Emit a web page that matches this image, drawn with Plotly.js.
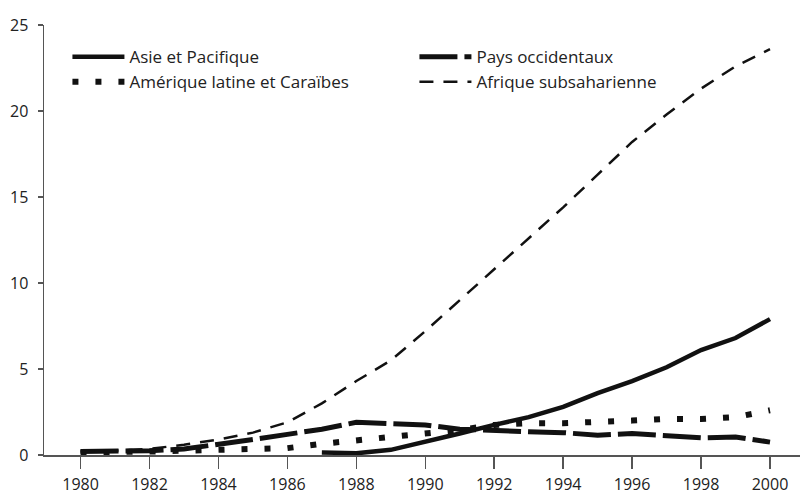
<!DOCTYPE html>
<html>
<head>
<meta charset="utf-8">
<script src="https://cdn.plot.ly/plotly-3.0.1.min.js"></script>
<style>html,body{margin:0;padding:0;background:#fff;}#chart{width:801px;height:497px;}</style>
</head>
<body>
<div id="chart"></div>
<script>
// ---- data ----
const yearsAll = [1980,1981,1982,1983,1984,1985,1986,1987,1988,1989,1990,1991,1992,1993,1994,1995,1996,1997,1998,1999,2000];
const yearsAsie = [1987,1988,1989,1990,1991,1992,1993,1994,1995,1996,1997,1998,1999,2000];
const asie = [0.15,0.1,0.3,0.75,1.25,1.75,2.2,2.8,3.6,4.3,5.1,6.1,6.8,7.9];
const pays = [0.2,0.2,0.25,0.35,0.6,0.9,1.2,1.5,1.9,1.85,1.75,1.5,1.4,1.35,1.3,1.15,1.25,1.1,1.0,1.05,0.75];
const amerique = [0.15,0.15,0.2,0.25,0.3,0.3,0.4,0.65,0.85,1.0,1.25,1.45,1.75,1.85,1.85,1.9,2.0,2.1,2.1,2.2,2.6];
const afrique = [0.2,0.25,0.35,0.6,0.9,1.3,1.9,3.0,4.3,5.5,7.2,9.0,10.8,12.6,14.4,16.3,18.2,19.8,21.3,22.6,23.6];
const seriesNames = ["Asie et Pacifique","Pays occidentaux","Amérique latine et Caraïbes","Afrique subsaharienne"];
const xTicks = [1980,1982,1984,1986,1988,1990,1992,1994,1996,1998,2000];
const yTicks = [0,5,10,15,20,25];

const ink = "#111111";
const traces = [
  {x: yearsAsie, y: asie, name: seriesNames[0], mode: "lines", line: {color: ink, width: 4.5}},
  {x: yearsAll, y: pays, name: seriesNames[1], mode: "lines", line: {color: ink, width: 5, dash: "38px,7px"}},
  {x: yearsAll, y: amerique, name: seriesNames[2], mode: "lines", line: {color: ink, width: 6, dash: "6px,17px"}},
  {x: yearsAll, y: afrique, name: seriesNames[3], mode: "lines", line: {color: ink, width: 2.5, dash: "14px,10px"}}
];

const font = {family: "Open Sans, sans-serif", size: 17, color: "#222"};
const tickFont = {family: "Open Sans, sans-serif", size: 16, color: "#222"};
const layout = {
  width: 801, height: 497,
  margin: {l: 44, r: 1, t: 25, b: 42},
  paper_bgcolor: "#fff", plot_bgcolor: "#fff",
  font: font,
  showlegend: true,
  legend: {orientation: "h", x: 0.031, y: 0.967, xanchor: "left", yanchor: "top",
           entrywidth: 280, itemwidth: 52, font: font, tracegroupgap: 0, bgcolor: "rgba(0,0,0,0)"},
  xaxis: {range: [1978.94, 2000.87], tickvals: xTicks, ticktext: xTicks.map(String),
          ticks: "outside", ticklen: 12, tickwidth: 1.5, tickcolor: "#555",
          showline: true, linecolor: "#555", linewidth: 1.5, showgrid: false, zeroline: false,
          ticklabelstandoff: 2, tickfont: tickFont, fixedrange: true},
  yaxis: {range: [0, 25], tickvals: yTicks, ticktext: yTicks.map(String),
          ticks: "outside", ticklen: 5, tickwidth: 1.5, tickcolor: "#555",
          showline: true, linecolor: "#555", linewidth: 1.5, showgrid: false, zeroline: false,
          ticklabelstandoff: 6, tickfont: tickFont, fixedrange: true},
  yaxis2: {range: [0, 25], overlaying: "y", anchor: "x", side: "left", tickvals: yTicks,
           ticks: "inside", ticklen: 6, tickwidth: 1.5, tickcolor: "#555",
           showticklabels: false, showline: false, showgrid: false, zeroline: false, fixedrange: true}
};

Plotly.newPlot("chart", traces, layout, {displayModeBar: false, staticPlot: true});
</script>
</body>
</html>
